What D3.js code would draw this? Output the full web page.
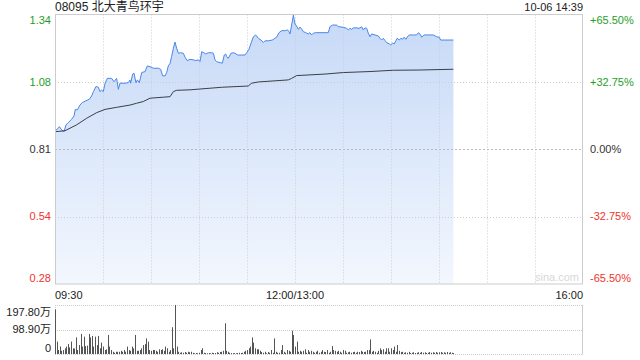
<!DOCTYPE html>
<html>
<head>
<meta charset="utf-8">
<script src="https://cdn.jsdelivr.net/npm/d3@7"></script>
<style>
  body { margin: 0; background: #fff; }
  svg { display: block; font-family: "Liberation Sans", Arial, "Noto Sans CJK SC", sans-serif; }
</style>
</head>
<body>
<svg></svg>
<script>
const width = 640;
const height = 360;
const prevClose = 0.81;
const title = "08095 北大青鸟环宇";
const stamp = "10-06 14:39";

// minutes since 09:30 (lunch removed, 150 = 13:00)
const priceMinutes = [0, 1.5, 2.7, 4.2, 5.6, 6.9, 8.3, 10.4, 11.9, 12.7, 14, 15.6, 17.1, 19.4, 21.5, 22.9, 24, 25.6, 27.1, 28.1,
  29.2, 30.2, 31.3, 32.7, 35.4, 36.9, 38.5, 39.6, 40.6, 43.8, 45.8, 46.9, 47.3, 48.5, 49.4, 50.6, 51.5, 52.7, 54.2, 56.3,
  57.7, 59.4, 61.5, 64.6, 66, 67.3, 68.8, 69.8, 70.8, 71.9, 72.9, 74, 75, 76, 77.1, 78.5, 80.2, 81.3, 82.7, 84.4,
  86.5, 88, 89.6, 90.6, 91.7, 93, 94.2, 95.8, 97.9, 99, 100, 101, 103.1, 104.6, 105.8, 106.7, 107.3, 108.3, 110, 111.5,
  112.5, 114.2, 118.75, 119.8, 121.25, 122.5, 124, 125.4, 127.1, 128.75, 130.2, 131.25, 133.3, 135.8, 137, 138.5, 140, 141.7, 144, 145.4,
  146.25, 146.9, 147.9, 149, 149.5, 150, 151, 152.1, 153.1, 154, 155.2, 156.7, 158.3, 159.3, 160.4, 161.5, 162.9, 170.8, 171.9, 173.5,
  176, 177.1, 180.2, 182.3, 183.3, 184.3, 185.4, 186.5, 188.5, 190, 191.7, 192.7, 193.75, 194.8, 195.8, 196.9, 197.9, 200, 202.1, 203.1,
  204.2, 205.2, 206.25, 207.3, 208.9, 209.8, 211, 212, 213.1, 213.9, 215.2, 216.2, 217.3, 218.1, 219.4, 220.2, 221.5, 224, 226, 227.1,
  228.1, 229.2, 230.6, 236.5, 238.5, 240.2, 241, 249];
const prices = [0.883, 0.889, 0.899, 0.886, 0.879, 0.906, 0.915, 0.928, 0.941, 0.967, 0.965, 0.984, 0.994, 1.001, 1.007, 1.020, 1.037, 1.057, 1.054, 1.037,
  1.043, 1.037, 1.070, 1.089, 1.089, 1.076, 1.089, 1.046, 1.070, 1.070, 1.072, 1.083, 1.070, 1.106, 1.109, 1.072, 1.083, 1.072, 1.112, 1.116,
  1.138, 1.135, 1.129, 1.129, 1.125, 1.099, 1.099, 1.112, 1.138, 1.148, 1.175, 1.208, 1.232, 1.208, 1.188, 1.190, 1.188, 1.172, 1.159, 1.164,
  1.162, 1.159, 1.162, 1.155, 1.194, 1.190, 1.185, 1.190, 1.190, 1.188, 1.162, 1.155, 1.151, 1.149, 1.181, 1.185, 1.175, 1.168, 1.188, 1.190,
  1.188, 1.181, 1.181, 1.190, 1.204, 1.227, 1.253, 1.260, 1.247, 1.240, 1.230, 1.237, 1.237, 1.240, 1.245, 1.251, 1.269, 1.277, 1.277, 1.280,
  1.273, 1.264, 1.299, 1.339, 1.320, 1.303, 1.295, 1.282, 1.291, 1.285, 1.273, 1.269, 1.264, 1.269, 1.260, 1.267, 1.269, 1.269, 1.293, 1.299,
  1.299, 1.293, 1.290, 1.286, 1.280, 1.286, 1.282, 1.288, 1.288, 1.286, 1.292, 1.280, 1.288, 1.286, 1.267, 1.253, 1.264, 1.260, 1.256, 1.247,
  1.240, 1.247, 1.238, 1.230, 1.225, 1.221, 1.228, 1.225, 1.238, 1.247, 1.240, 1.247, 1.243, 1.251, 1.243, 1.253, 1.260, 1.260, 1.260, 1.269,
  1.264, 1.251, 1.260, 1.260, 1.253, 1.251, 1.240, 1.240];

const avgMinutes = [0, 6.25, 13.5, 19.8, 26, 31.25, 38.5, 46.9, 51, 55.2, 59.4, 67.7, 71.9, 74, 76, 84.4, 104.2, 120.8, 122.9, 127.1,
  145.8, 147.9, 151, 168.75, 180.2, 196.9, 211.5, 228.1, 249];
const avgPrices = [0.879, 0.883, 0.906, 0.932, 0.954, 0.967, 0.975, 0.984, 0.991, 0.998, 1.011, 1.015, 1.017, 1.037, 1.042, 1.044, 1.054, 1.059, 1.070, 1.075,
  1.083, 1.089, 1.100, 1.106, 1.112, 1.116, 1.121, 1.122, 1.125];

// volume per minute, 万 shares
const volumes = [180, 50, 16, 30, 13, 16, 23, 30, 40, 27, 50, 23, 22, 67, 16, 36, 81, 30, 70, 32,
  34, 81, 67, 73, 30, 70, 36, 73, 23, 46, 30, 16, 19, 77, 30, 16, 9, 5, 9, 9,
  9, 13, 9, 16, 9, 30, 16, 13, 30, 23, 77, 13, 13, 16, 23, 36, 40, 63, 50, 16,
  13, 16, 16, 13, 9, 19, 16, 19, 13, 30, 23, 9, 16, 108, 23, 198, 30, 9, 5, 7,
  5, 8, 5, 9, 7, 9, 5, 3, 4, 3, 5, 16, 23, 5, 4, 3, 4, 3, 5, 4,
  4, 7, 5, 8, 9, 13, 124, 13, 9, 5, 4, 3, 4, 3, 4, 5, 4, 5, 9, 13,
  16, 23, 30, 67, 46, 23, 19, 19, 13, 8, 5, 9, 3, 8, 5, 16, 5, 63, 9, 5,
  5, 16, 36, 9, 5, 16, 13, 9, 94, 77, 30, 50, 9, 13, 9, 13, 19, 5, 16, 9,
  13, 9, 5, 9, 13, 5, 9, 16, 9, 8, 16, 5, 9, 32, 16, 13, 9, 13, 9, 5,
  16, 13, 5, 7, 9, 5, 8, 9, 5, 9, 8, 13, 9, 8, 9, 16, 16, 59, 9, 13,
  9, 5, 13, 23, 16, 19, 9, 23, 23, 9, 23, 16, 30, 9, 36, 13, 8, 9, 5, 7,
  5, 9, 4, 5, 7, 4, 5, 7, 5, 8, 5, 7, 4, 5, 8, 5, 7, 5, 8, 5,
  7, 8, 5, 7, 5, 8, 5, 7, 5, 4];

const pctTicks = [0.655, 0.3275, 0, -0.3275, -0.655];
const priceLabels = ["1.34", "1.08", "0.81", "0.54", "0.28"];
const pctLabels = ["+65.50%", "+32.75%", "0.00%", "-32.75%", "-65.50%"];
const volTicks = [197.8, 98.9, 0];
const volLabels = ["197.80万", "98.90万", "0"];
const timeTicks = [0, 150, 330];
const timeLabels = ["09:30", "12:00/13:00", "16:00"];

const up = "#1f9e1f";
const down = "#f0322e";
const flat = "#333";
const colorOf = (v) => (v > 0 ? up : v < 0 ? down : flat);

const svg = d3.select("svg").attr("width", width).attr("height", height);

const pLeft = 55, pRight = 583;
const pTop = 14.5, pBottom = 284;
const vTop = 305, vBottom = 354;

const xScale = d3.scaleLinear().domain([0, 330]).range([pLeft, pRight]);
const yScale = d3.scaleLinear()
  .domain([prevClose * (1 - 0.655), prevClose * (1 + 0.655)])
  .range([pBottom, pTop]);
const vScale = d3.scaleLinear().domain([0, 197.8]).range([vBottom, vTop]);

// gradient for area
const defs = svg.append("defs");
const grad = defs.append("linearGradient")
  .attr("id", "fillGrad")
  .attr("gradientUnits", "userSpaceOnUse")
  .attr("x1", 0).attr("x2", 0).attr("y1", pTop).attr("y2", pBottom);
grad.append("stop").attr("offset", "0%").attr("stop-color", "#c6d9f7");
grad.append("stop").attr("offset", "100%").attr("stop-color", "#f3f7fe");

// area + lines
const priceData = priceMinutes.map((m, i) => ({ m, p: prices[i] }));
const avgData = avgMinutes.map((m, i) => ({ m, p: avgPrices[i] }));

svg.append("path")
  .datum(priceData)
  .attr("fill", "url(#fillGrad)")
  .attr("d", d3.area().x((d) => xScale(d.m)).y0(pBottom).y1((d) => yScale(d.p)));

// grid
const grid = svg.append("g");
pctTicks.slice(1, -1).forEach((p) => {
  const yy = Math.round(yScale(prevClose * (1 + p))) + 0.5;
  grid.append("line")
    .attr("x1", pLeft).attr("x2", pRight)
    .attr("y1", yy).attr("y2", yy)
    .attr("stroke", p === 0 ? "#bbb" : "#ccc")
    .attr("stroke-dasharray", p === 0 ? "2,2" : "1,2");
});
d3.range(30, 330, 30).forEach((m) => {
  const xx = Math.round(xScale(m)) + 0.5;
  grid.append("line")
    .attr("x1", xx).attr("x2", xx)
    .attr("y1", pTop).attr("y2", pBottom)
    .attr("stroke", "#ccc")
    .attr("stroke-dasharray", "1,2");
});

svg.append("path")
  .datum(priceData)
  .attr("fill", "none")
  .attr("stroke", "#4a86ea")
  .attr("stroke-width", 1)
  .attr("d", d3.line().x((d) => xScale(d.m)).y((d) => yScale(d.p)));

svg.append("path")
  .datum(avgData)
  .attr("fill", "none")
  .attr("stroke", "#3a3f48")
  .attr("stroke-width", 1)
  .attr("d", d3.line().x((d) => xScale(d.m)).y((d) => yScale(d.p)));

// frame
svg.append("rect")
  .attr("x", pLeft + 0.5).attr("y", pTop)
  .attr("width", pRight - pLeft - 1).attr("height", pBottom - pTop)
  .attr("fill", "none")
  .attr("stroke", "#ccc");

// watermark
svg.append("text")
  .attr("x", pRight - 4).attr("y", pBottom - 3)
  .attr("text-anchor", "end")
  .attr("font-size", 11)
  .attr("fill", "#d8d8d8")
  .text("sina.com");

// price / pct labels
pctTicks.forEach((p, i) => {
  const yy = Math.min(Math.max(yScale(prevClose * (1 + p)), 20), 278);
  svg.append("text")
    .attr("x", 51).attr("y", yy).attr("dy", "0.35em")
    .attr("text-anchor", "end").attr("font-size", 11)
    .attr("fill", colorOf(p))
    .text(priceLabels[i]);
  svg.append("text")
    .attr("x", 590).attr("y", yy).attr("dy", "0.35em")
    .attr("font-size", 11)
    .attr("fill", colorOf(p))
    .text(pctLabels[i]);
});

// time labels
timeTicks.forEach((m, i) => {
  svg.append("text")
    .attr("x", xScale(m)).attr("y", 295).attr("dy", "0.35em")
    .attr("text-anchor", i === 0 ? "start" : i === 1 ? "middle" : "end")
    .attr("font-size", 11)
    .attr("fill", "#222")
    .text(timeLabels[i]);
});

// title
svg.append("text")
  .attr("x", pLeft).attr("y", 11)
  .attr("font-size", 12).attr("fill", "#222")
  .text(title);
svg.append("text")
  .attr("x", pRight).attr("y", 11)
  .attr("text-anchor", "end")
  .attr("font-size", 11).attr("fill", "#222")
  .text(stamp);

// volume panel
const vg = svg.append("g");
volTicks.forEach((v) => {
  const yy = Math.round(vScale(v)) + 0.5;
  vg.append("line")
    .attr("x1", pLeft).attr("x2", pRight)
    .attr("y1", yy).attr("y2", yy)
    .attr("stroke", "#ccc")
    .attr("stroke-dasharray", "1,1");
});
vg.append("line")
  .attr("x1", pRight - 0.5).attr("x2", pRight - 0.5)
  .attr("y1", vTop).attr("y2", vBottom + 0.5)
  .attr("stroke", "#ccc");
vg.append("line")
  .attr("x1", pLeft + 0.5).attr("x2", pLeft + 0.5)
  .attr("y1", vTop).attr("y2", vBottom)
  .attr("stroke", "#ccc")
  .attr("stroke-dasharray", "1,1");

vg.selectAll("rect.bar")
  .data(volumes)
  .enter()
  .append("rect")
  .attr("class", "bar")
  .attr("x", (d, i) => Math.round(xScale(i)))
  .attr("width", 1)
  .attr("y", (d) => vScale(d))
  .attr("height", (d) => vBottom - vScale(d))
  .attr("fill", "#555");

volTicks.forEach((v, i) => {
  const yy = Math.min(Math.max(vScale(v), 312), 348);
  vg.append("text")
    .attr("x", 51).attr("y", yy).attr("dy", "0.35em")
    .attr("text-anchor", "end").attr("font-size", 11)
    .attr("fill", "#222")
    .text(volLabels[i]);
});
</script>
</body>
</html>
